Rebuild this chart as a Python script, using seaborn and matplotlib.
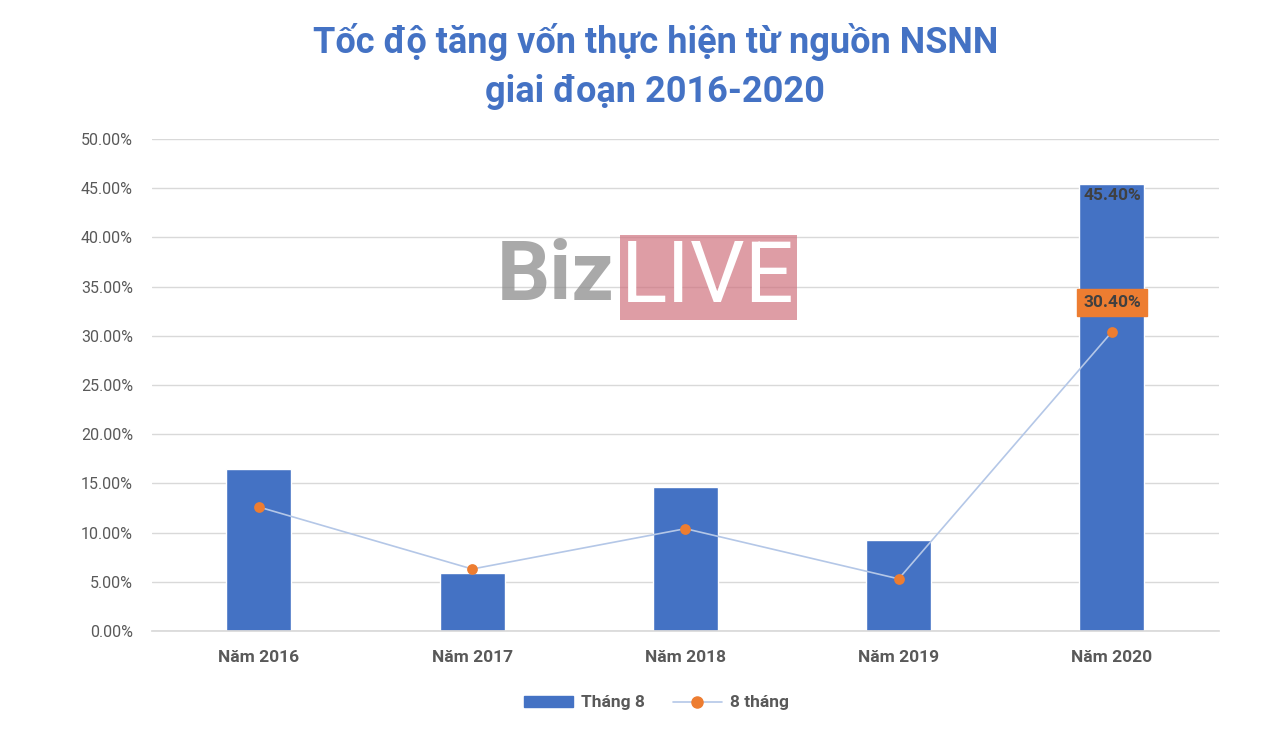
import matplotlib
matplotlib.use('Agg')
import matplotlib.pyplot as plt
import seaborn as sns
from matplotlib.patches import Rectangle
from matplotlib.lines import Line2D
from matplotlib.patches import Patch
from matplotlib.ticker import FuncFormatter, MultipleLocator

# Data (percent)
years = ['Năm 2016', 'Năm 2017', 'Năm 2018', 'Năm 2019', 'Năm 2020']
thang_8 = [16.5, 5.9, 14.6, 9.2, 45.4]
tam_thang = [12.6, 6.3, 10.4, 5.3, 30.4]

BLUE = '#4472C4'
ORANGE = '#ED7D31'
LINE_BLUE = '#B4C7E7'
GRID = '#D9D9D9'
TXT = '#595959'

sns.set_theme(style='white')
plt.rcParams['font.family'] = ['Roboto', 'DejaVu Sans']

fig = plt.figure(figsize=(12.8, 7.3), dpi=100)
ax = fig.add_axes([0.119, 0.1356, 0.833, 0.674])

sns.barplot(x=years, y=thang_8, color=BLUE, width=0.305, saturation=1, ax=ax, zorder=2)
xs = ax.get_xticks()
ax.plot(xs, tam_thang, color=LINE_BLUE, lw=1.2, zorder=3)
ax.scatter(xs, tam_thang, s=60, color=ORANGE, zorder=4, linewidths=0)

ax.set_xlim(-0.5, 4.5)
ax.set_ylim(0, 50)
ax.yaxis.set_major_locator(MultipleLocator(5))
ax.yaxis.set_major_formatter(FuncFormatter(lambda v, p: f'{v:.2f}%'))
ax.grid(axis='y', color=GRID, lw=1, zorder=0)
ax.set_axisbelow(True)
for s in ['top', 'right', 'left']:
    ax.spines[s].set_visible(False)
ax.spines['bottom'].set_color(GRID)
ax.tick_params(axis='y', length=0, pad=14, labelsize=11.5, labelcolor=TXT)
ax.tick_params(axis='x', length=0, pad=14, labelsize=12.5, labelcolor=TXT)
for lbl in ax.get_xticklabels():
    lbl.set_fontweight('bold')
ax.set_xlabel('')
ax.set_ylabel('')

# data labels for 2020
ax.text(xs[4], thang_8[4] - 0.4, f'{thang_8[4]:.2f}%', ha='center', va='top',
        fontsize=12.5, fontweight='bold', color='#404040', zorder=5)
ax.text(xs[4], tam_thang[4] + 3.0, f'{tam_thang[4]:.2f}%', ha='center', va='center',
        fontsize=12.5, fontweight='bold', color='#404040', zorder=5,
        bbox=dict(boxstyle='square,pad=0.35', fc=ORANGE, ec=ORANGE))

# title
fig.text(0.512, 0.942, 'Tốc độ tăng vốn thực hiện từ nguồn NSNN', ha='center', va='center',
         fontsize=26, fontweight='bold', color=BLUE)
fig.text(0.512, 0.874, 'giai đoạn 2016-2020', ha='center', va='center',
         fontsize=26, fontweight='bold', color=BLUE)

# watermark
fig.patches.append(Rectangle((620 / 1280, 1 - 320 / 730), 177 / 1280, 85 / 730,
                             transform=fig.transFigure, fc='#CF6F7B', alpha=0.68,
                             ec='none', zorder=6))
fig.text(614 / 1280, 1 - 278 / 730, 'Biz', ha='right', va='center', fontsize=60,
         fontweight='bold', color='#8C8C8C', alpha=0.75, zorder=7)
fig.text(708 / 1280, 1 - 278 / 730, 'LIVE', ha='center', va='center', fontsize=62,
         fontweight='normal', color='white', zorder=7)

# legend
handles = [Patch(fc=BLUE, ec=BLUE),
           Line2D([0], [0], color=LINE_BLUE, lw=1.2, marker='o', markersize=8,
                  markerfacecolor=ORANGE, markeredgecolor=ORANGE)]
fig.legend(handles, ['Tháng 8', '8 tháng'], loc='center', bbox_to_anchor=(0.513, 0.037),
           ncol=2, frameon=False, handlelength=2.8, handleheight=0.6, columnspacing=1.6,
           handletextpad=0.5, prop={'size': 12.5, 'weight': 'bold'}, labelcolor=TXT)

fig.savefig('out.png', dpi=100)
